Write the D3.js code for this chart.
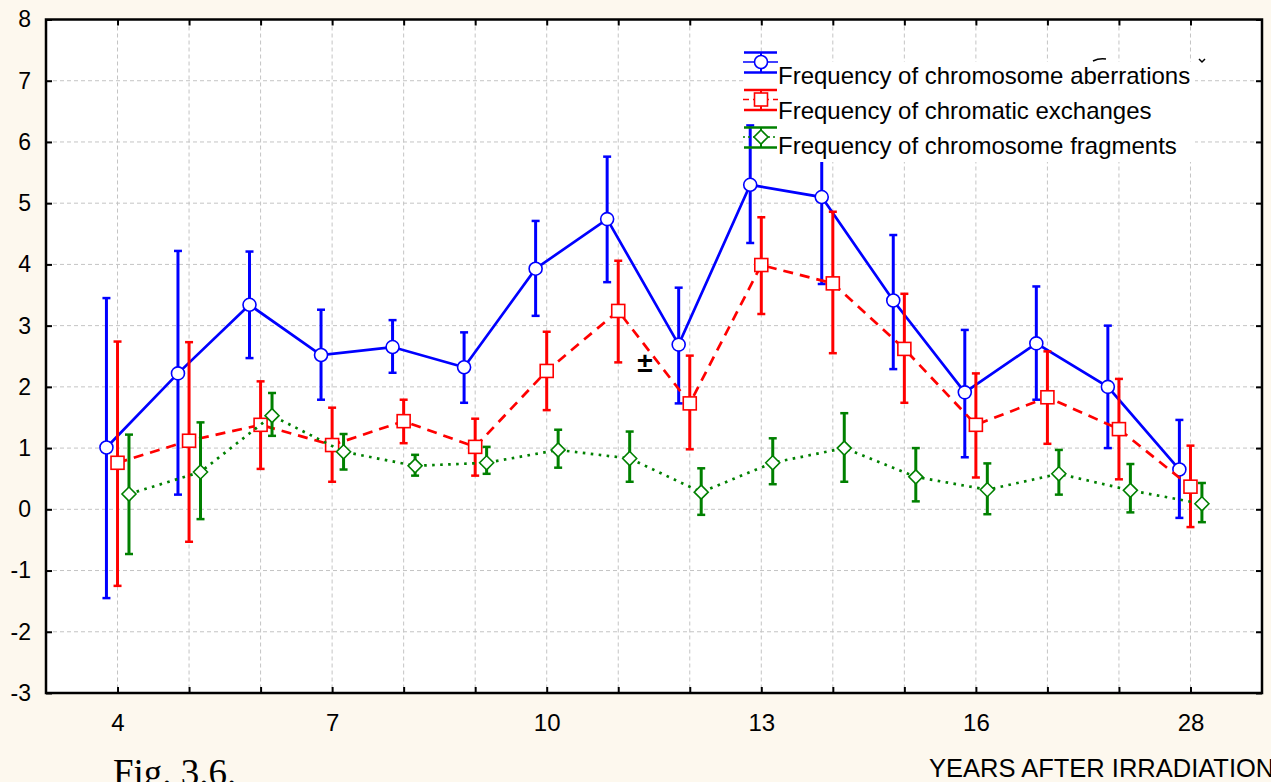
<!DOCTYPE html>
<meta charset="utf-8">
<title>Fig. 3.6</title>
<style>
  body { margin: 0; background: #FDF8EE; }
  svg { display: block; font-family: Arial, "Liberation Sans", sans-serif; }
</style>
<body>
<div id="chart"></div>

<script src="https://d3js.org/d3.v7.min.js"></script>
<script>

  // categories on the x axis (only every third one is labelled)
  const categories = ["4","5","6","7","8","9","10","11","12","13","14","15","16","17","18","28"];
  const yTicks = [-3,-2,-1,0,1,2,3,4,5,6,7,8];

  const seriesNames = [
    "Frequency of chromosome aberrations",
    "Frequency of chromatic exchanges",
    "Frequency of chromosome fragments"
  ];

  // chromosome aberrations: mean and error-bar ends
  const aberrMean = [1.01,2.22,3.34,2.52,2.65,2.32,3.93,4.74,2.69,5.30,5.10,3.41,1.91,2.71,2.00,0.65];
  const aberrLow  = [-1.45,0.24,2.47,1.79,2.23,1.74,3.16,3.71,1.73,4.35,3.68,2.29,0.85,1.79,1.00,-0.14];
  const aberrHigh = [3.45,4.22,4.21,3.26,3.09,2.89,4.71,5.76,3.62,6.27,6.52,4.48,2.93,3.64,3.00,1.46];

  // chromatic exchanges
  const exchMean = [0.76,1.12,1.38,1.05,1.44,1.02,2.26,3.24,1.73,3.99,3.69,2.62,1.38,1.83,1.31,0.37];
  const exchLow  = [-1.25,-0.53,0.66,0.45,1.08,0.55,1.62,2.40,0.98,3.19,2.55,1.74,0.52,1.07,0.49,-0.29];
  const exchHigh = [2.74,2.73,2.09,1.66,1.79,1.48,2.90,4.06,2.51,4.77,4.86,3.52,2.22,2.58,2.13,1.04];

  // chromosome fragments
  const fragMean = [0.25,0.61,1.53,0.94,0.71,0.76,0.97,0.83,0.28,0.76,1.00,0.53,0.32,0.58,0.31,0.09];
  const fragLow  = [-0.73,-0.16,1.20,0.65,0.55,0.58,0.68,0.45,-0.09,0.41,0.45,0.13,-0.08,0.24,-0.05,-0.21];
  const fragHigh = [1.22,1.42,1.90,1.23,0.89,1.02,1.30,1.27,0.67,1.16,1.57,1.00,0.75,0.97,0.74,0.43];

  const W = 1271, H = 782;
  const plotL = 46, plotR = 1262, plotT = 19.5, plotB = 693;

  const svg = d3.select("#chart").append("svg")
      .attr("width", W)
      .attr("height", H);

  const x = d3.scalePoint()
    .domain(categories)
    .range([plotL, plotR])
    .padding(1);
  const step = x.step();

  const y = d3.scaleLinear()
    .domain([-3, 8])
    .range([plotB, plotT]);

  const series = [
    {name: seriesNames[0], mean: aberrMean, low: aberrLow, high: aberrHigh, color: "#0000FF", shape: "circle", dash: null, off: -0.155},
    {name: seriesNames[1], mean: exchMean, low: exchLow, high: exchHigh, color: "#FF0000", shape: "square", dash: "10,7", off: 0},
    {name: seriesNames[2], mean: fragMean, low: fragLow, high: fragHigh, color: "#008000", shape: "diamond", dash: "2.6,5.4", off: 0.16}
  ];

  // plot background
  svg.append("rect")
    .attr("x", plotL).attr("y", plotT)
    .attr("width", plotR - plotL).attr("height", plotB - plotT)
    .attr("fill", "white");

  // grid
  const grid = svg.append("g")
    .attr("stroke", "#c4c4c4")
    .attr("stroke-width", 1)
    .attr("stroke-dasharray", "4,3");
  grid.selectAll(".h").data(yTicks.slice(1, -1)).join("line")
    .attr("x1", plotL).attr("x2", plotR)
    .attr("y1", d => y(d)).attr("y2", d => y(d));
  grid.selectAll(".v").data(categories).join("line")
    .attr("x1", d => x(d)).attr("x2", d => x(d))
    .attr("y1", plotT).attr("y2", plotB);

  // legend box (below the series)
  svg.append("rect")
    .attr("x", 743).attr("y", 63)
    .attr("width", 452).attr("height", 95)
    .attr("fill", "white");

  function marker(g, shape, color) {
    if (shape === "circle") {
      g.append("circle").attr("r", 6.5);
    } else if (shape === "square") {
      g.append("rect").attr("x", -6.5).attr("y", -6.5).attr("width", 13).attr("height", 13);
    } else {
      g.append("path").attr("d", "M0,-7L7,0L0,7L-7,0Z");
    }
    g.selectAll("*").attr("fill", "white").attr("stroke", color).attr("stroke-width", 1.6);
  }

  series.forEach(s => {
    const px = i => x(categories[i]) + s.off * step;
    const g = svg.append("g");

    const line = d3.line()
      .x((d, i) => px(i))
      .y(d => y(d));
    g.append("path")
      .attr("d", line(s.mean))
      .attr("fill", "none")
      .attr("stroke", s.color)
      .attr("stroke-width", 2.7)
      .attr("stroke-dasharray", s.dash);

    // error bars
    const eb = g.selectAll(".eb").data(s.mean).join("g")
      .attr("stroke", s.color)
      .attr("stroke-width", 3);
    eb.append("line")
      .attr("x1", (d, i) => px(i)).attr("x2", (d, i) => px(i))
      .attr("y1", (d, i) => y(s.low[i])).attr("y2", (d, i) => y(s.high[i]));
    eb.append("line")
      .attr("x1", (d, i) => px(i) - 4).attr("x2", (d, i) => px(i) + 4)
      .attr("y1", (d, i) => y(s.low[i])).attr("y2", (d, i) => y(s.low[i]))
      .attr("stroke-width", 2.5);
    eb.append("line")
      .attr("x1", (d, i) => px(i) - 4).attr("x2", (d, i) => px(i) + 4)
      .attr("y1", (d, i) => y(s.high[i])).attr("y2", (d, i) => y(s.high[i]))
      .attr("stroke-width", 2.5);

    // markers
    s.mean.forEach((d, i) => {
      const m = g.append("g").attr("transform", `translate(${px(i)},${y(d)})`);
      marker(m, s.shape, s.color);
    });
  });

  // stray "±" sign in the plot
  svg.append("text")
    .attr("x", 645).attr("y", 372)
    .attr("text-anchor", "middle")
    .attr("font-size", 28)
    .attr("font-weight", "bold")
    .text("±");

  // legend text area covers the series
  svg.append("rect")
    .attr("x", 776).attr("y", 62)
    .attr("width", 419).attr("height", 100)
    .attr("fill", "white");

  const legend = svg.append("g");
  series.forEach((s, i) => {
    const cy = 62 + i * 37.5;
    const lg = legend.append("g").attr("stroke", s.color);
    lg.append("line").attr("x1", 744).attr("x2", 777).attr("y1", cy - 9.5).attr("y2", cy - 9.5).attr("stroke-width", 2.5);
    lg.append("line").attr("x1", 744).attr("x2", 777).attr("y1", cy + 10.5).attr("y2", cy + 10.5).attr("stroke-width", 2.5);
    lg.append("line").attr("x1", 761).attr("x2", 761).attr("y1", cy - 9.5).attr("y2", cy + 10.5).attr("stroke-width", 2);
    lg.append("line").attr("x1", 743).attr("x2", 778).attr("y1", cy).attr("y2", cy)
      .attr("stroke-width", 1.5).attr("stroke-dasharray", s.dash ? (i === 1 ? "6,4" : "2,3") : null);
    const m = legend.append("g").attr("transform", `translate(761,${cy})`);
    marker(m, s.shape, s.color);
    legend.append("text")
      .attr("x", 778).attr("y", 84 + i * 35)
      .attr("font-size", 24)
      .attr("fill", "black")
      .text(s.name);
  });
  // small stray marks above the first legend line
  legend.append("path")
    .attr("d", "M1093,61Q1099,58 1106,59")
    .attr("fill", "none").attr("stroke", "black").attr("stroke-width", 1.5);
  legend.append("path")
    .attr("d", "M1199,59L1202,62L1205,59")
    .attr("fill", "none").attr("stroke", "black").attr("stroke-width", 1.5);

  // axes (ticks point inward on all four sides)
  const yAxis = svg.append("g")
    .attr("transform", `translate(${plotL},0)`)
    .call(d3.axisLeft(y).tickValues(yTicks).tickSize(-6).tickPadding(15).tickFormat(d => String(d)));
  yAxis.selectAll("text").attr("font-size", 23).attr("fill", "black").attr("font-family", "Arial, 'Liberation Sans', sans-serif");

  const xAxis = svg.append("g")
    .attr("transform", `translate(0,${plotB})`)
    .call(d3.axisBottom(x).tickSize(-6).tickFormat((d, i) => i % 3 === 0 ? d : ""));
  xAxis.selectAll("text")
    .attr("y", 38).attr("dy", null)
    .attr("font-size", 24).attr("fill", "black")
    .attr("font-family", "Arial, 'Liberation Sans', sans-serif");

  svg.append("g")
    .attr("transform", `translate(${plotR},0)`)
    .call(d3.axisRight(y).tickValues(yTicks).tickSize(-6).tickFormat(""));
  svg.append("g")
    .attr("transform", `translate(0,${plotT})`)
    .call(d3.axisTop(x).tickSize(-6).tickFormat(""));

  svg.selectAll(".domain").remove();
  svg.selectAll(".tick line").attr("stroke", "black").attr("stroke-width", 2);

  // frame
  svg.append("rect")
    .attr("x", plotL).attr("y", plotT)
    .attr("width", plotR - plotL).attr("height", plotB - plotT)
    .attr("fill", "none")
    .attr("stroke", "black")
    .attr("stroke-width", 2.5);

  svg.append("text")
    .attr("x", 929).attr("y", 777)
    .attr("font-size", 25.5)
    .text("YEARS AFTER IRRADIATION");

  svg.append("text")
    .attr("x", 113).attr("y", 785)
    .attr("font-family", "'Liberation Serif', 'Times New Roman', serif")
    .attr("font-size", 37)
    .text("Fig. 3.6.");

</script>
</body>
